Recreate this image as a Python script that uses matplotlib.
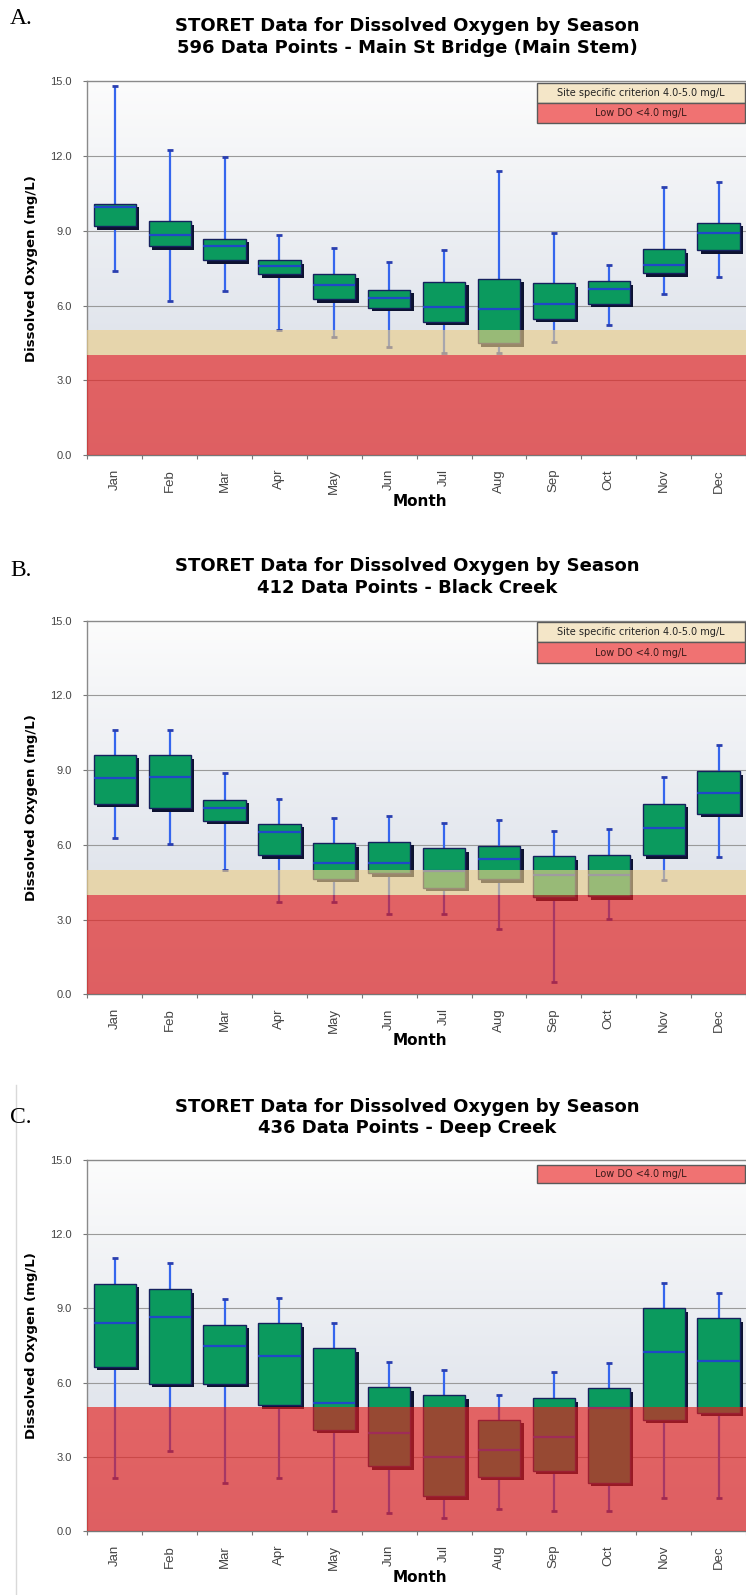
import numpy as np
import matplotlib
matplotlib.use("Agg")
import matplotlib.pyplot as plt
import matplotlib.patheffects as pe
from matplotlib.patches import Rectangle

months = ['Jan', 'Feb', 'Mar', 'Apr', 'May', 'Jun', 'Jul', 'Aug', 'Sep', 'Oct', 'Nov', 'Dec']

# A. Main St Bridge (Main Stem)
a_low = [7.4, 6.2, 6.6, 5.0, 4.75, 4.35, 4.1, 4.1, 4.55, 5.2, 6.45, 7.15]
a_q1 = [9.18, 8.38, 7.82, 7.25, 6.26, 5.92, 5.35, 4.48, 5.48, 6.08, 7.29, 8.22]
a_med = [9.96, 8.82, 8.40, 7.59, 6.82, 6.32, 5.95, 5.88, 6.08, 6.66, 7.62, 8.93]
a_q3 = [10.09, 9.39, 8.69, 7.82, 7.26, 6.64, 6.95, 7.07, 6.90, 6.98, 8.26, 9.32]
a_high = [14.8, 12.23, 11.97, 8.82, 8.33, 7.73, 8.25, 11.40, 8.93, 7.62, 10.76, 10.96]

# B. Black Creek
b_low = [6.26, 6.02, 4.98, 3.72, 3.72, 3.22, 3.22, 2.61, 0.50, 3.04, 4.61, 5.52]
b_q1 = [7.65, 7.48, 6.97, 5.59, 4.64, 4.87, 4.27, 4.62, 3.89, 3.93, 5.59, 7.24]
b_med = [8.68, 8.73, 7.48, 6.51, 5.29, 5.29, 4.95, 5.43, 4.80, 4.80, 6.67, 8.10]
b_q3 = [9.63, 9.60, 7.82, 6.84, 6.07, 6.13, 5.86, 5.97, 5.55, 5.59, 7.65, 8.96]
b_high = [10.6, 10.6, 8.87, 7.86, 7.08, 7.15, 6.88, 7.01, 6.57, 6.65, 8.71, 10.0]

# C. Deep Creek
c_low = [2.13, 3.24, 1.96, 2.13, 0.81, 0.71, 0.53, 0.90, 0.81, 0.81, 1.32, 1.32]
c_q1 = [6.65, 5.96, 5.96, 5.08, 4.10, 2.61, 1.40, 2.20, 2.43, 1.96, 4.49, 4.77]
c_med = [8.39, 8.67, 7.48, 7.07, 5.19, 3.98, 2.99, 3.28, 3.80, 4.98, 7.25, 6.86]
c_q3 = [9.99, 9.78, 8.34, 8.39, 7.39, 5.81, 5.49, 4.49, 5.37, 5.77, 9.01, 8.60]
c_high = [11.04, 10.82, 9.39, 9.43, 8.41, 6.83, 6.51, 5.49, 6.41, 6.79, 10.03, 9.61]

title1 = 'STORET Data for Dissolved Oxygen by Season'
subtitles = ['596 Data Points - Main St Bridge (Main Stem)',
             '412 Data Points - Black Creek',
             '436 Data Points - Deep Creek']
letters = ['A.', 'B.', 'C.']

W, H = 746, 1595
plt.rcParams['font.family'] = ['Liberation Sans', 'DejaVu Sans']

def fx(px):
    return px / W

def fy(py):
    return 1 - py / H

fig = plt.figure(figsize=(W / 100, H / 100), dpi=100)

# pixel layout: axes top, axes bottom, title baselines, letter baseline
layout = [
    dict(top=81.4, bot=455.0, t1=31, t2=53, letter=24),
    dict(top=620.8, bot=994.3, t1=571, t2=593, letter=576),
    dict(top=1160.0, bot=1531.0, t1=1112, t2=1133, letter=1123),
]

left_px = 87.3
xmax = 11.37
green = '#0b9a5e'
box_edge = '#16215e'
whisk = '#3566ee'
red_band = (228 / 255, 30 / 255, 28 / 255)
tan_band = (235 / 255, 205 / 255, 135 / 255)

# vertical background shading, white at the top to pale blue-grey below
grad = np.linspace(0, 1, 200)[:, None, None]
c0 = np.array([212, 218, 229]) / 255
c1 = np.array([252, 252, 252]) / 255
grad_img = np.repeat(c0 * (1 - grad) + c1 * grad, 20, axis=1)

panels = [(a_low, a_q1, a_med, a_q3, a_high),
          (b_low, b_q1, b_med, b_q3, b_high),
          (c_low, c_q1, c_med, c_q3, c_high)]

x = np.arange(len(months))

for k, (lo, q1, med, q3, hi) in enumerate(panels):
    L = layout[k]
    ax = fig.add_axes([fx(left_px), fy(L['bot']), 1 - fx(left_px), (L['bot'] - L['top']) / H])
    ax.imshow(grad_img, extent=(-0.5, xmax + 0.5, 0, 15), aspect='auto', origin='lower',
              interpolation='bilinear', zorder=0)

    for g in [3, 6, 9, 12]:
        ax.axhline(g, color='#9a9a9a', lw=0.8, zorder=1)

    # whiskers
    ax.vlines(x, lo, hi, color=whisk, lw=1.6, zorder=2)
    ax.plot(x, lo, ls='none', marker='_', ms=4, mew=2, color='#2a3fb0', zorder=2)
    ax.plot(x, hi, ls='none', marker='_', ms=4, mew=2, color='#2a3fb0', zorder=2)

    # boxes with a drop shadow
    bars = ax.bar(x, np.array(q3) - np.array(q1), bottom=q1, width=0.77,
                  color=green, edgecolor=box_edge, linewidth=1.0, zorder=3)
    for b in bars:
        b.set_path_effects([pe.SimplePatchShadow(offset=(2.5, -2.5), shadow_rgbFace='#0d1230', alpha=1.0),
                            pe.Normal()])
    ax.hlines(med, x - 0.385, x + 0.385, color='#2048c8', lw=1.6, zorder=4)

    # criterion bands laid over the boxes
    if k < 2:
        ax.axhspan(4, 5, color=tan_band, alpha=0.63, lw=0, zorder=5)
        ax.axhspan(0, 4, color=red_band, alpha=0.65, lw=0, zorder=5)
    else:
        ax.axhspan(0, 5, color=red_band, alpha=0.65, lw=0, zorder=5)

    ax.set_xlim(-0.5, xmax)
    ax.set_ylim(0, 15)
    ax.set_yticks([0, 3, 6, 9, 12, 15])
    ax.set_yticklabels(['%.1f' % v for v in [0, 3, 6, 9, 12, 15]], fontsize=8, color='#444444')
    ax.tick_params(axis='y', length=3, width=0.8, color='#777777', pad=8)
    ax.set_xticks(np.arange(-0.5, 11.6, 1.0))
    ax.set_xticklabels([])
    ax.tick_params(axis='x', which='major', length=3, width=0.8, color='#777777')
    ax.set_xticks(x, minor=True)
    ax.set_xticklabels(months, minor=True, rotation=90, fontsize=9.5, color='#444444')
    ax.tick_params(axis='x', which='minor', length=0, pad=10)
    for s in ['top', 'left', 'bottom']:
        ax.spines[s].set_color('#8a8a8a')
        ax.spines[s].set_linewidth(1.0)
    ax.spines['right'].set_visible(False)
    ax.spines['bottom'].set_color('#777777')

    # legend boxes (upper right)
    if k < 2:
        rows = [('Site specific criterion 4.0-5.0 mg/L', '#f4e6c8', '#222222'),
                ('Low DO <4.0 mg/L', '#f07272', '#3a1a1a')]
        ytop = 1 - 1.3 / (L['bot'] - L['top'])
        rh = 20.3 / (L['bot'] - L['top'])
    else:
        rows = [('Low DO <4.0 mg/L', '#f07272', '#3a1a1a')]
        ytop = 1 - 4.5 / (L['bot'] - L['top'])
        rh = 18.5 / (L['bot'] - L['top'])
    lx0 = (537 - left_px) / (W - left_px)
    lx1 = 0.998
    for j, (txt, fc, tc) in enumerate(rows):
        y0 = ytop - (j + 1) * rh
        ax.add_patch(Rectangle((lx0, y0), lx1 - lx0, rh, transform=ax.transAxes,
                               facecolor=fc, edgecolor='#5a5a5a', lw=1.0, zorder=10, clip_on=False))
        ax.text((lx0 + lx1) / 2, y0 + rh / 2, txt, transform=ax.transAxes, ha='center', va='center',
                fontsize=7, color=tc, family='DejaVu Sans', zorder=11)

    # titles and labels
    fig.text(fx(407), fy(L['t1']), title1, ha='center', va='baseline',
             fontsize=13, fontweight='bold', family='DejaVu Sans')
    fig.text(fx(407), fy(L['t2']), subtitles[k], ha='center', va='baseline',
             fontsize=13, fontweight='bold', family='DejaVu Sans')
    fig.text(fx(10), fy(L['letter']), letters[k], ha='left', va='baseline',
             fontsize=17, family='Liberation Serif')
    fig.text(fx(31.5), fy((L['top'] + L['bot']) / 2), 'Dissolved Oxygen (mg/L)', rotation=90,
             ha='center', va='center', fontsize=9.5, fontweight='bold', family='DejaVu Sans')
    fig.text(fx(420), fy(L['bot'] + 51), 'Month', ha='center', va='baseline',
             fontsize=11, fontweight='bold', family='DejaVu Sans')

# faint border line at the left of panel C
fig.add_artist(plt.Line2D([fx(16), fx(16)], [fy(1085), 0], color='#d9d9d9', lw=1.0))

fig.savefig('out.png', dpi=100)
